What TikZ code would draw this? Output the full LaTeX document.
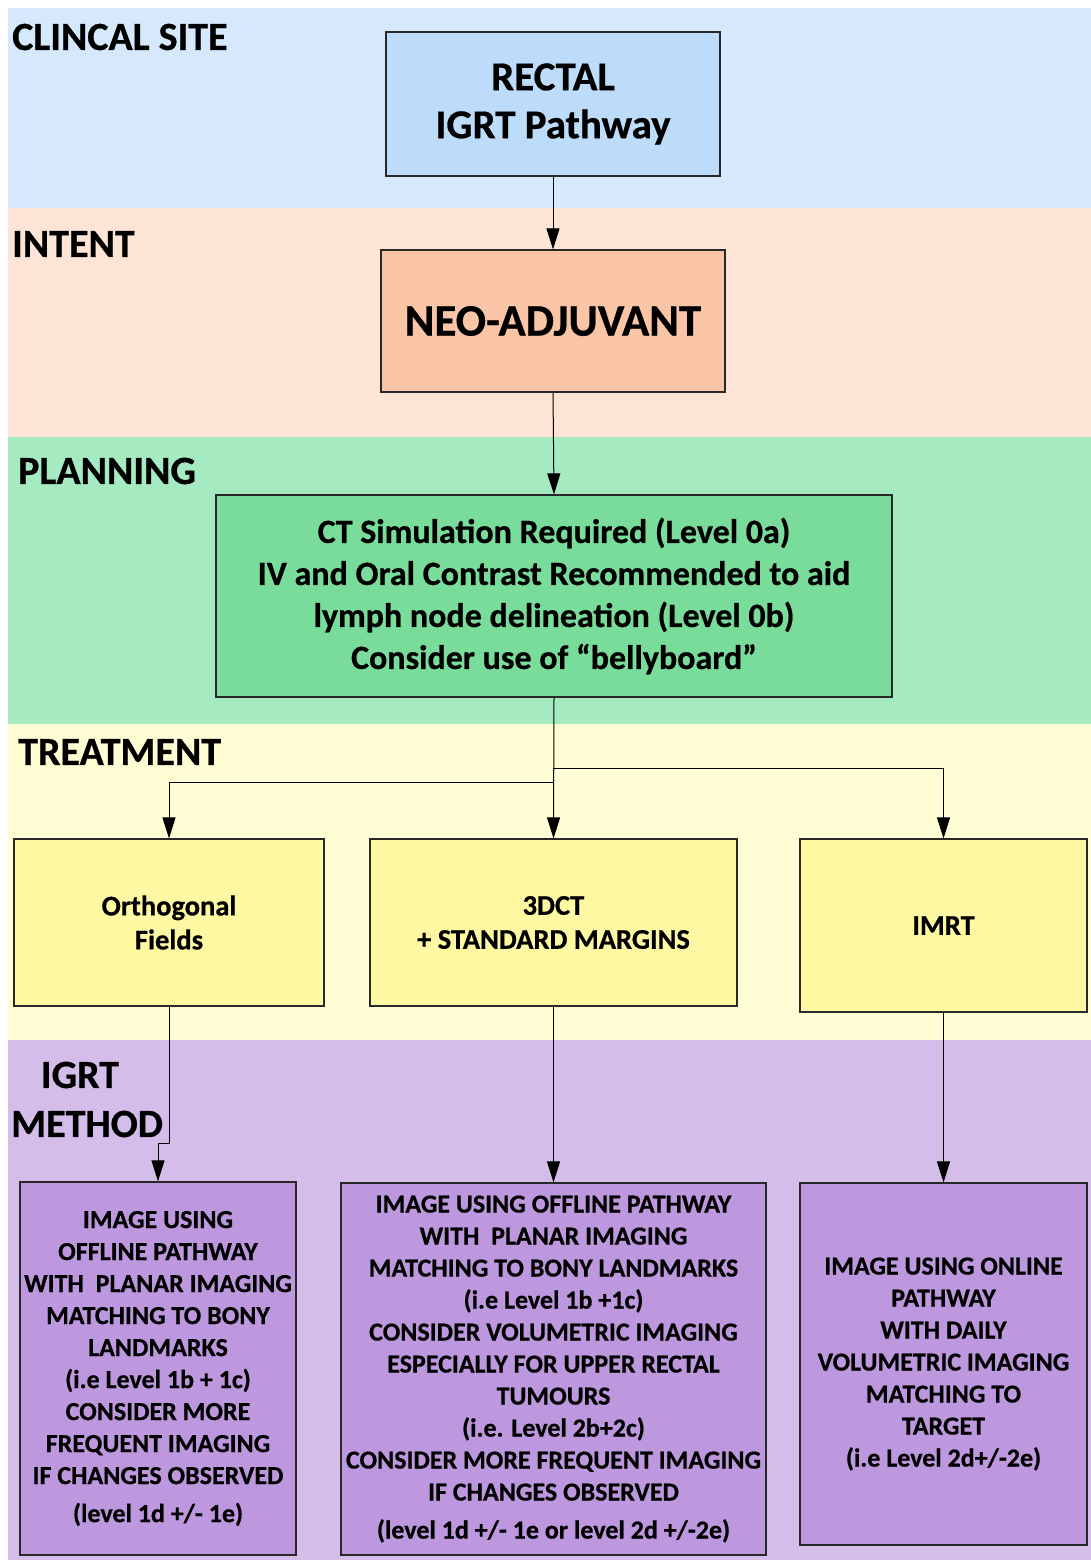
\documentclass[tikz,border=0pt]{standalone}
\usepackage{fontspec}
\setmainfont{Carlito}[BoldFeatures={FakeBold=0.6}]
\usetikzlibrary{arrows.meta}
\definecolor{bandblue}{RGB}{214,232,251}
\definecolor{boxblue}{RGB}{189,220,250}
\definecolor{bandorange}{RGB}{252,229,213}
\definecolor{boxorange}{RGB}{249,197,166}
\definecolor{bandgreen}{RGB}{166,234,193}
\definecolor{boxgreen}{RGB}{121,220,155}
\definecolor{bandyellow}{RGB}{254,253,211}
\definecolor{boxyellow}{RGB}{254,248,162}
\definecolor{bandpurple}{RGB}{213,189,234}
\definecolor{boxpurple}{RGB}{190,152,222}
\definecolor{edge}{RGB}{40,40,40}
\tikzset{
  box/.style={draw=edge, line width=1.2pt, align=center, inner sep=2pt},
  heading/.style={anchor=west, font=\fontsize{40}{42}\selectfont\bfseries, inner sep=0pt},
  big/.style={font=\fontsize{41}{48}\selectfont\bfseries},
  bigger/.style={font=\fontsize{45}{48}\selectfont\bfseries},
  plan/.style={font=\fontsize{34}{42}\selectfont\bfseries},
  treat/.style={font=\fontsize{28.5}{34}\selectfont\bfseries},
  meth/.style={font=\fontsize{26}{32}\selectfont\bfseries},
  arr/.style={draw=black, line width=1pt, -{Triangle[length=21pt,width=13pt]}},
  ln/.style={draw=black, line width=1pt}
}
\begin{document}
\begin{tikzpicture}[x=1pt,y=-1pt]
\useasboundingbox (0,0) rectangle (1091,1560);
\fill[white] (0,0) rectangle (1091,1560);
% bands
\fill[bandblue]   (8,8)    rectangle (1091,208);
\fill[bandorange] (8,208)  rectangle (1091,437);
\fill[bandgreen]  (8,437)  rectangle (1091,724);
\fill[bandyellow] (8,724)  rectangle (1091,1040);
\fill[bandpurple] (8,1040) rectangle (1091,1560);
% headings
\node[heading] (hsite) at (12,37) {CLINCAL SITE};
\node[heading] (hintent) at (12,244) {INTENT};
\node[heading] (hplan) at (18,471) {PLANNING};
\node[heading] (htreat) at (18,752) {TREATMENT};
\node[heading, anchor=center] (higrt) at (80,1075) {IGRT};
\node[heading] (hmethod) at (11,1124) {METHOD};
% boxes
\node[box, fill=boxblue, big, minimum width=334pt, minimum height=144pt] (rectal) at (553,104) {RECTAL\\IGRT Pathway};
\node[box, fill=boxorange, bigger, minimum width=344pt, minimum height=142pt] (neo) at (553,321) {NEO-ADJUVANT};
\node[box, fill=boxgreen, plan, minimum width=676pt, minimum height=202pt] (ct) at (554,596) {CT Simulation Required (Level 0a)\\IV and Oral Contrast Recommended to aid\\lymph node delineation (Level 0b)\\Consider use of “bellyboard”};
\node[box, fill=boxyellow, treat, minimum width=310pt, minimum height=167pt] (orth) at (169,922.5) {Orthogonal\\Fields};
\node[box, fill=boxyellow, treat, minimum width=367pt, minimum height=167pt] (tdct) at (553.5,922.5) {3DCT\\+ STANDARD MARGINS};
\node[box, fill=boxyellow, treat, minimum width=287pt, minimum height=173pt] (imrt) at (943.5,925.5) {IMRT};
\node[box, fill=boxpurple, meth, minimum width=276pt, minimum height=373pt] (leftp) at (158,1368.5) {IMAGE USING\\OFFLINE PATHWAY\\WITH\ \ PLANAR IMAGING\\MATCHING TO BONY\\LANDMARKS\\(i.e Level 1b + 1c)\\CONSIDER MORE\\FREQUENT IMAGING\\IF CHANGES OBSERVED\\[6pt](level 1d +/- 1e)};
\node[box, fill=boxpurple, meth, minimum width=425pt, minimum height=372pt] (midp) at (553.5,1369) {IMAGE USING OFFLINE PATHWAY\\WITH\ \ PLANAR IMAGING\\MATCHING TO BONY LANDMARKS\\(i.e Level 1b +1c)\\CONSIDER VOLUMETRIC IMAGING\\ESPECIALLY FOR UPPER RECTAL\\TUMOURS\\(i.e. Level 2b+2c)\\CONSIDER MORE FREQUENT IMAGING\\IF CHANGES OBSERVED\\[6pt](level 1d +/- 1e or level 2d +/-2e)};
\node[box, fill=boxpurple, meth, minimum width=287pt, minimum height=362pt] (rightp) at (943.5,1364) {IMAGE USING ONLINE\\PATHWAY\\WITH DAILY\\VOLUMETRIC IMAGING\\MATCHING TO\\TARGET\\(i.e Level 2d+/-2e)};
% connectors
\coordinate (b1) at (553,768);
\coordinate (b2) at (553,782);
\coordinate (jy) at (0,1143);
\draw[arr] (rectal.south) -- (neo.north);
\draw[arr] (neo.south) -- (ct.north);
\draw[arr] (ct.south) -- (tdct.north);
\draw[arr] (b1) -| (imrt.north);
\draw[arr] (b2) -| (orth.north);
\draw[arr] (orth.south) -- (orth.south |- jy) -- (leftp.north |- jy) -- (leftp.north);
\draw[arr] (tdct.south) -- (midp.north);
\draw[arr] (imrt.south) -- (rightp.north);
\end{tikzpicture}
\end{document}
